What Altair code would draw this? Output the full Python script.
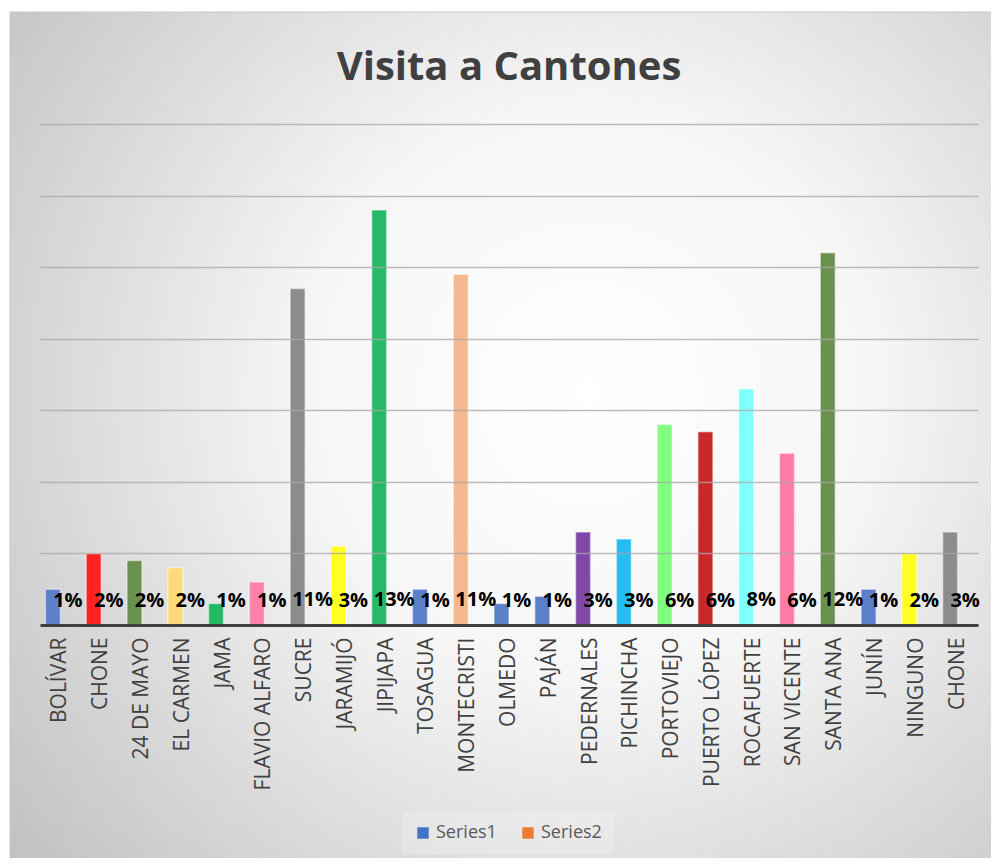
import json
import altair as alt
import pandas as pd

categories = ["BOLÍVAR", "CHONE", "24 DE MAYO", "EL CARMEN", "JAMA", "FLAVIO ALFARO",
              "SUCRE", "JARAMIJÓ", "JIPIJAPA", "TOSAGUA", "MONTECRISTI", "OLMEDO",
              "PAJÁN", "PEDERNALES", "PICHINCHA", "PORTOVIEJO", "PUERTO LÓPEZ",
              "ROCAFUERTE", "SAN VICENTE", "SANTA ANA", "JUNÍN", "NINGUNO", "CHONE"]
series1 = [5, 10, 9, 8, 3, 6, 47, 11, 58, 5, 49, 3, 4, 13, 12, 28, 27, 33, 24, 52, 5, 10, 13]
series2 = [0.01, 0.02, 0.02, 0.02, 0.01, 0.01, 0.11, 0.03, 0.13, 0.01, 0.11, 0.01,
           0.01, 0.03, 0.03, 0.06, 0.06, 0.08, 0.06, 0.12, 0.01, 0.02, 0.03]
bar_colors = ["#5B7FC8", "#FF2222", "#6A9150", "#FFD97A", "#22B965", "#FF80A8",
              "#8C8C8C", "#FFFF22", "#25BA68", "#5B7FC8", "#F4B98F", "#5B7FC8",
              "#5B7FC8", "#8048A8", "#25BCF0", "#80FF80", "#C92828", "#80FFFF",
              "#FF7CA5", "#6A9150", "#5B7FC8", "#FFFF22", "#8C8C8C"]
series_names = ["Series1", "Series2"]
series_colors = ["#4472C4", "#ED7D31"]
grid_values = [0, 10, 20, 30, 40, 50, 60, 70]
title_text = "Visita a Cantones"

W, H = 938, 501

rows = []
for i, (c, v, p, col) in enumerate(zip(categories, series1, series2, bar_colors)):
    rows.append(dict(idx=i, name=c, series="Series1", value=v, color=col))
    rows.append(dict(idx=i, name=c, series="Series2", value=p, color="#ED7D31"))
df = pd.DataFrame(rows)

label_expr = json.dumps(categories, ensure_ascii=False) + "[datum.value]"

x_enc = alt.X("idx:O",
              scale=alt.Scale(paddingInner=0.265, paddingOuter=0.1325),
              axis=alt.Axis(title=None, labelExpr=label_expr, labelAngle=270,
                            labelFont="Open Sans", labelFontSize=21, labelColor="#404040",
                            labelPadding=12, ticks=False, domainColor="#404040",
                            domainWidth=3, grid=False, zindex=1))
xoff_enc = alt.XOffset("series:N", scale=alt.Scale(domain=series_names, paddingInner=0, paddingOuter=0))
y_scale = alt.Scale(domain=[0, 70], nice=False)
y_axis = alt.Axis(title=None, labels=False, ticks=False, domain=False, grid=True,
                  values=grid_values, gridColor="#a8a8a8", gridOpacity=0.75,
                  gridWidth=1.3, zindex=1)

one = pd.DataFrame({"k": [0]})

bg = alt.Chart(one).mark_rect(
    color=alt.RadialGradient(
        gradient="radial", x1=0.58, y1=0.45, r1=0.0, x2=0.58, y2=0.45, r2=0.75,
        stops=[alt.GradientStop(color="#ffffff", offset=0),
               alt.GradientStop(color="#f6f6f6", offset=0.38),
               alt.GradientStop(color="#c0c0c0", offset=1)]),
    stroke="#c8c8c8", strokeWidth=1
).encode(x=alt.value(-30), x2=alt.value(W + 30), y=alt.value(-112), y2=alt.value(H + 250))

title = alt.Chart(one).mark_text(
    font="Open Sans", fontSize=40, fontWeight="bold", color="#404040",
    align="center", baseline="alphabetic"
).encode(x=alt.value(W / 2), y=alt.value(-44), text=alt.value(title_text))

base = alt.Chart(df)

bars = base.transform_filter(alt.datum.series == "Series1").mark_bar(
    stroke="white", strokeOpacity=0.45, strokeWidth=1.5
).encode(
    x=x_enc, xOffset=xoff_enc,
    y=alt.Y("value:Q", scale=y_scale, axis=y_axis),
    color=alt.Color("color:N", scale=None),
)

texts = base.transform_filter(alt.datum.series == "Series2").mark_text(
    font="Open Sans", fontSize=20, fontWeight="bold", color="#000000",
    baseline="alphabetic", dy=-18
).encode(
    x=x_enc, xOffset=xoff_enc,
    y=alt.Y("value:Q", scale=y_scale, axis=y_axis),
    text=alt.Text("value:Q", format=".0%"),
)

legend_layer = alt.Chart(pd.DataFrame({"series": series_names})).mark_square(opacity=0).encode(
    x=alt.value(0), y=alt.value(0),
    color=alt.Color("series:N", scale=alt.Scale(domain=series_names, range=series_colors),
                    legend=alt.Legend(title=None, orient="none", direction="horizontal",
                                      legendX=362, legendY=688, symbolType="square",
                                      symbolSize=130, symbolOpacity=1, symbolStrokeWidth=0,
                                      labelFont="Open Sans", labelFontSize=18,
                                      labelColor="#595959", columnPadding=22,
                                      padding=12, fillColor="rgba(255,255,255,0.2)")),
)

chart = alt.layer(bg, title, bars, texts, legend_layer).resolve_scale(
    color="independent"
).properties(
    width=W, height=H,
    autosize=alt.AutoSizeParams(type="none"),
    padding={"left": 32, "top": 116, "right": 13, "bottom": 233},
).configure_view(stroke=None).configure(background="white")

chart.save("out.html", embed_options={"renderer": "svg", "actions": False})
